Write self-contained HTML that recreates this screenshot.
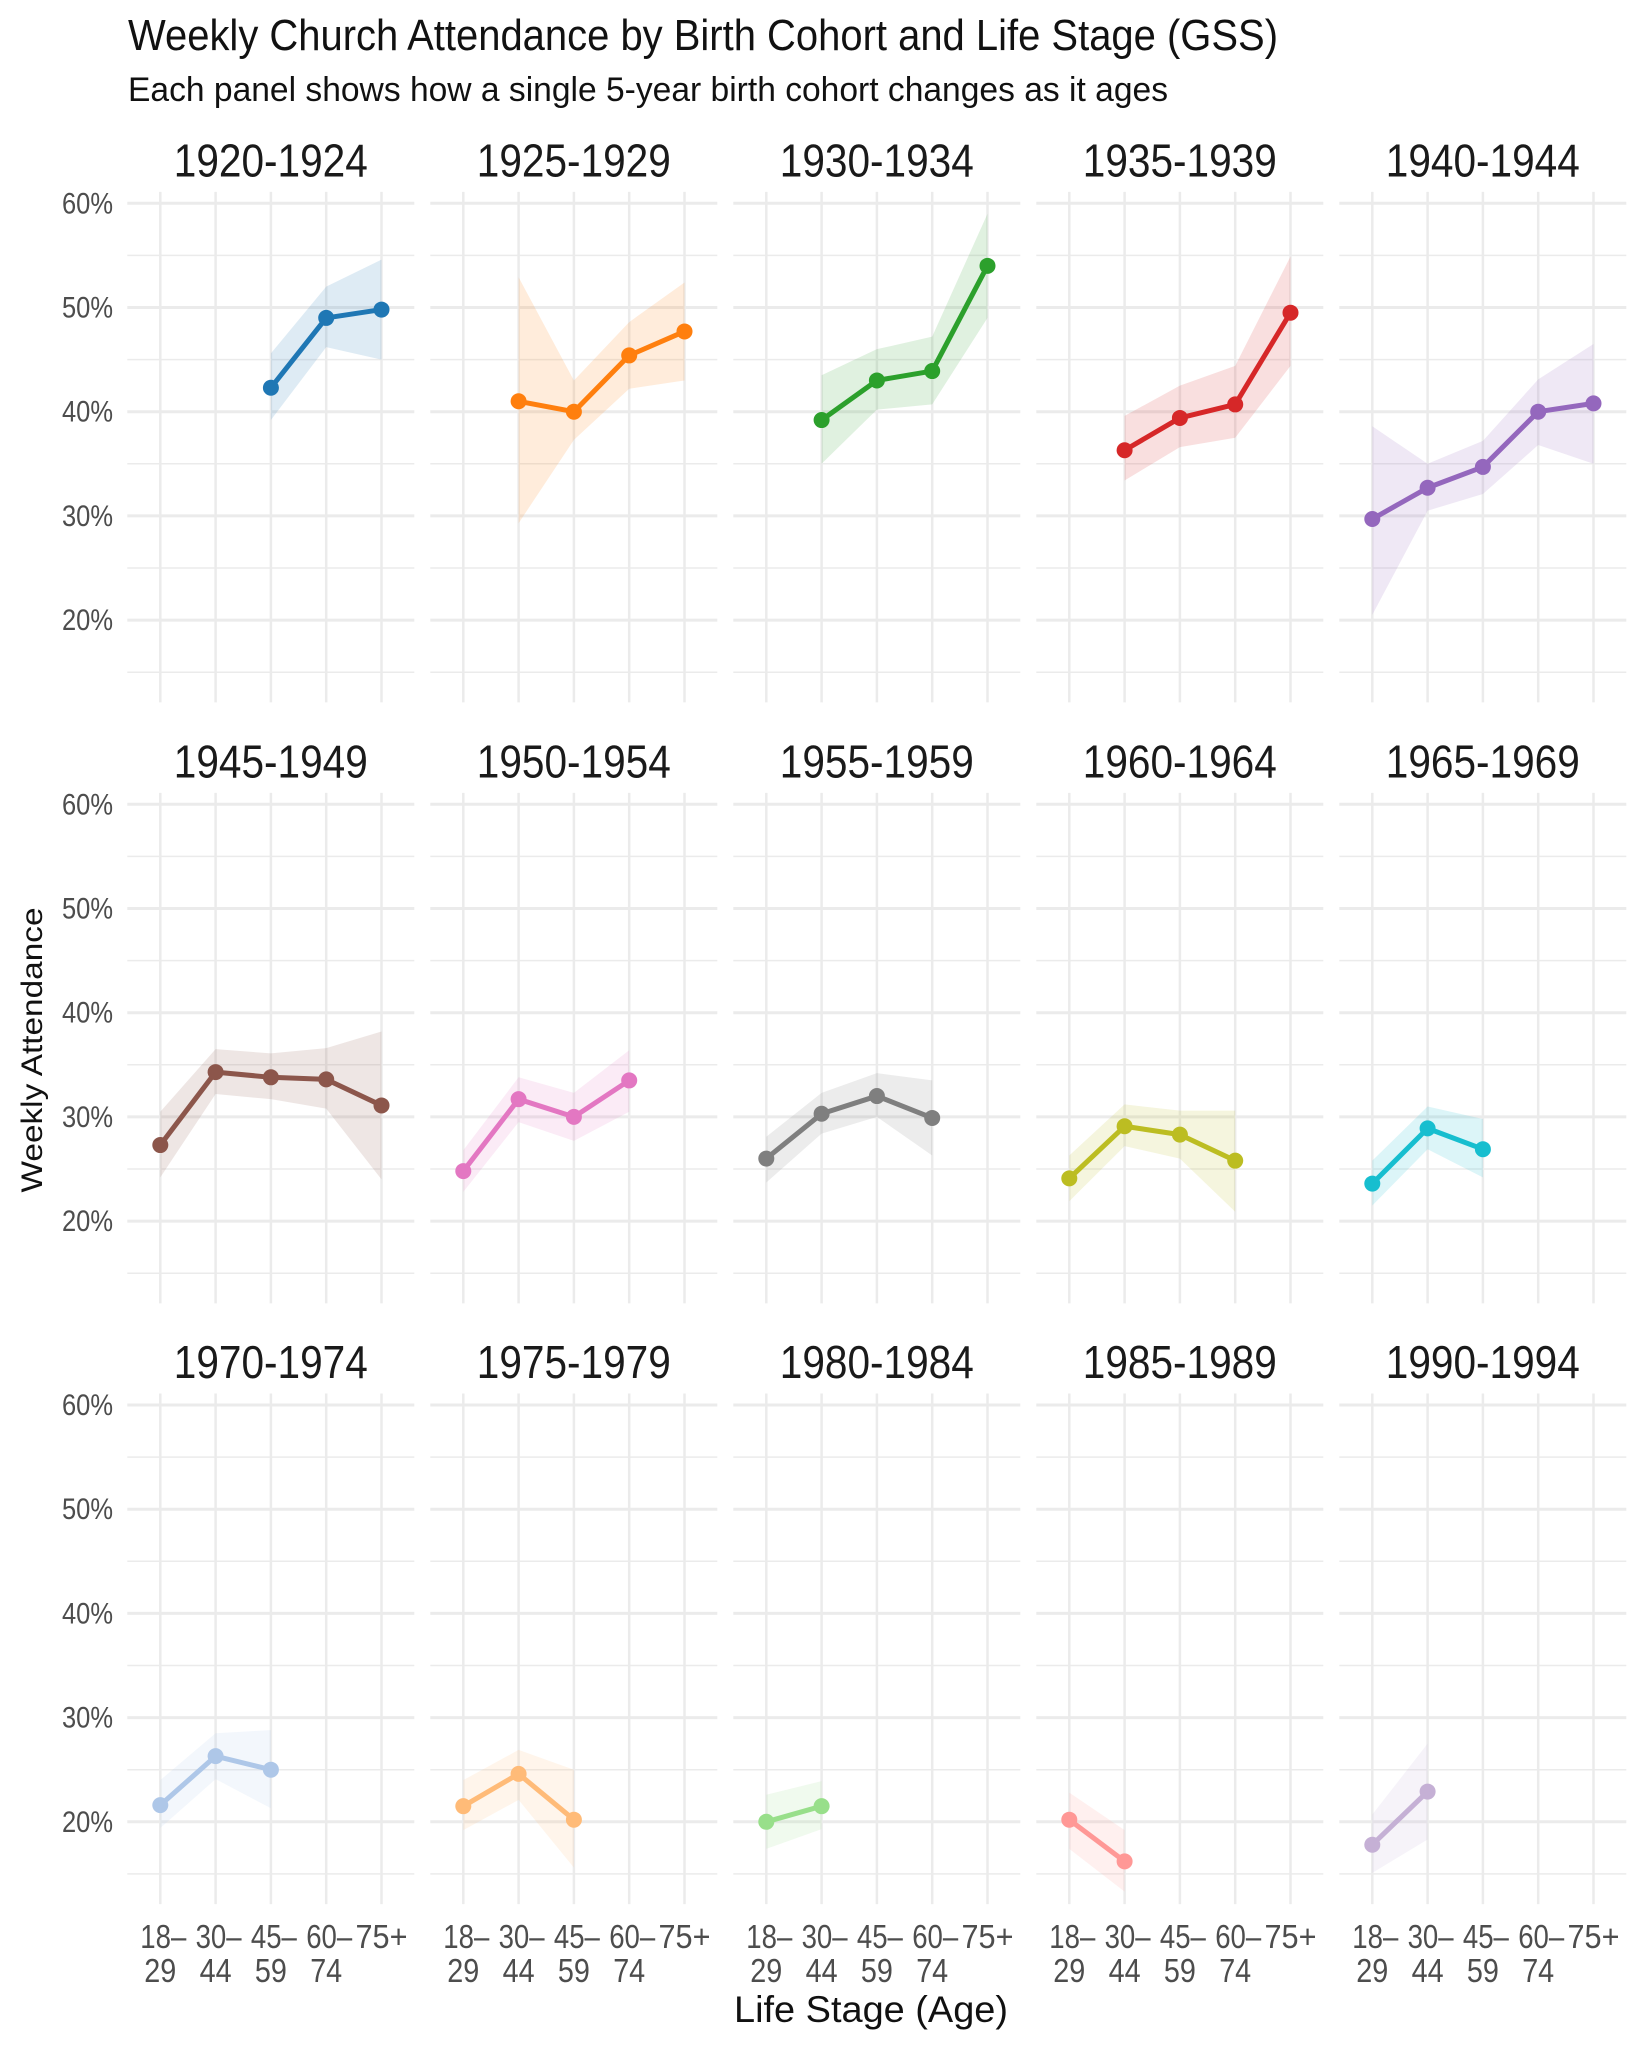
<!DOCTYPE html>
<html><head><meta charset="utf-8"><style>
html,body{margin:0;padding:0;background:#fff;}
svg{display:block;font-family:"Liberation Sans",sans-serif;}
</style></head><body>
<svg id="chart" xmlns="http://www.w3.org/2000/svg" width="1638" height="2048" viewBox="0 0 1638 2048">
<rect width="1638" height="2048" fill="#fff"/>
<text x="128" y="50" font-size="44" fill="#111" textLength="1150" lengthAdjust="spacingAndGlyphs">Weekly Church Attendance by Birth Cohort and Life Stage (GSS)</text>
<text x="128" y="101" font-size="34" fill="#111" textLength="1040" lengthAdjust="spacingAndGlyphs">Each panel shows how a single 5-year birth cohort changes as it ages</text>
<text transform="translate(42,1050) rotate(-90)" text-anchor="middle" font-size="30" fill="#111" textLength="285" lengthAdjust="spacingAndGlyphs">Weekly Attendance</text>
<text x="871" y="2022" text-anchor="middle" font-size="37" fill="#111" textLength="274" lengthAdjust="spacingAndGlyphs">Life Stage (Age)</text>
<g id="panels"></g>
</svg>
<script>
const cohorts = ["1920-1924","1925-1929","1930-1934","1935-1939","1940-1944","1945-1949","1950-1954","1955-1959","1960-1964","1965-1969","1970-1974","1975-1979","1980-1984","1985-1989","1990-1994"];
const stages1 = ["18–","30–","45–","60–","75+"];
const stages2 = ["29","44","59","74",""];
const yTicks = [20,30,40,50,60];
const yMinor = [15,25,35,45,55];
const colors = ["#1f77b4","#ff7f0e","#2ca02c","#d62728","#9467bd","#8c564b","#e377c2","#7f7f7f","#bcbd22","#17becf","#aec7e8","#ffbb78","#98df8a","#ff9896","#c5b0d5"];
const startIdx = [2,1,1,1,0,0,0,0,0,0,0,0,0,0,0];
const values = [
 [42.3,49.0,49.8],
 [41.0,40.0,45.4,47.7],
 [39.2,43.0,43.9,54.0],
 [36.3,39.4,40.7,49.5],
 [29.7,32.7,34.7,40.0,40.8],
 [27.3,34.3,33.8,33.6,31.1],
 [24.8,31.7,30.0,33.5],
 [26.0,30.3,32.0,29.9],
 [24.1,29.1,28.3,25.8],
 [23.6,28.9,26.9],
 [21.6,26.3,25.0],
 [21.5,24.6,20.2],
 [20.0,21.5],
 [20.2,16.2],
 [17.8,22.9]
];
const lower = [
 [39.2,46.2,45.0],
 [29.3,37.3,42.2,43.0],
 [35.0,40.2,40.7,49.0],
 [33.4,36.6,37.5,44.4],
 [20.5,30.5,32.1,36.8,35.0],
 [24.2,32.2,31.7,30.8,24.0],
 [22.8,29.5,27.7,30.5],
 [23.7,28.4,30.0,26.3],
 [21.9,27.2,26.0,20.9],
 [21.5,26.9,24.2],
 [19.4,24.1,21.3],
 [19.2,22.1,15.6],
 [17.4,19.3],
 [17.4,13.3],
 [15.1,18.3]
];
const upper = [
 [45.6,52.0,54.6],
 [52.9,43.0,48.6,52.4],
 [43.5,46.0,47.2,59.0],
 [39.6,42.5,44.4,54.9],
 [38.6,35.0,37.2,43.1,46.5],
 [30.5,36.5,36.1,36.6,38.2],
 [26.8,33.8,32.3,36.4],
 [28.1,32.3,34.2,33.5],
 [26.3,31.2,30.6,30.6],
 [25.8,31.0,29.8],
 [24.0,28.5,28.8],
 [24.0,26.9,25.0],
 [22.6,23.9],
 [22.8,19.2],
 [20.7,27.5]
];

const NS="http://www.w3.org/2000/svg";
const root=document.getElementById("panels");
const PANEL_W=287, PITCH_X=303, LEFT0=127.3, ROW_Y60=[203.3,804.3,1405], PER=10.42;
const YMIN=12.1, YMAX=61.1;
function mk(tag,attrs,parent){const e=document.createElementNS(NS,tag);for(const k in attrs)e.setAttribute(k,attrs[k]);parent.appendChild(e);return e;}
function xScale(col,i){return LEFT0+col*PITCH_X+33+i*55.3;}
function yScale(row,v){return ROW_Y60[row]+(60-v)*PER;}

cohorts.forEach((name,c)=>{
  const row=Math.floor(c/5), col=c%5;
  const g=mk("g",{},root);
  
  
  const left=LEFT0+col*PITCH_X, top=yScale(row,YMAX), bot=yScale(row,YMIN);
  yMinor.forEach(t=>{const l=mk("line",{x1:left,x2:left+PANEL_W,y1:yScale(row,t),y2:yScale(row,t),stroke:"#ebebeb","stroke-width":1.5},g);
    });
  yTicks.forEach(t=>{const l=mk("line",{x1:left,x2:left+PANEL_W,y1:yScale(row,t),y2:yScale(row,t),stroke:"#ebebeb","stroke-width":3},g);
    });
  for(let i=0;i<5;i++){const l=mk("line",{x1:xScale(col,i),x2:xScale(col,i),y1:top,y2:bot,stroke:"#ebebeb","stroke-width":2.5},g);
    }
  const st=mk("text",{x:left+PANEL_W/2,y:yScale(row,60)-27,"text-anchor":"middle","font-size":46,fill:"#1a1a1a",textLength:194,lengthAdjust:"spacingAndGlyphs"},g);
  st.textContent=name;
  
  if(col===0){yTicks.forEach(t=>{const tx=mk("text",{x:113,y:yScale(row,t)+10,"text-anchor":"end","font-size":30,fill:"#4d4d4d",textLength:51,lengthAdjust:"spacingAndGlyphs"},g);
    tx.textContent=t+"%";});}
  if(row===2){for(let i=0;i<5;i++){
    const w1=stages1[i]==="75+"?52:46;
    const a=mk("text",{x:xScale(col,i)+(stages1[i]==="75+"?0:3),y:1948,"text-anchor":"middle","font-size":33,fill:"#4d4d4d",textLength:w1,lengthAdjust:"spacingAndGlyphs"},g);
    a.textContent=stages1[i];
    if(stages2[i]){const b=mk("text",{x:xScale(col,i),y:1982,"text-anchor":"middle","font-size":33,fill:"#4d4d4d",textLength:32,lengthAdjust:"spacingAndGlyphs"},g);
    b.textContent=stages2[i];}}}
  const s=startIdx[c], v=values[c];
  let pts=[];
  for(let i=0;i<v.length;i++)pts.push([xScale(col,s+i),yScale(row,upper[c][i])]);
  for(let i=v.length-1;i>=0;i--)pts.push([xScale(col,s+i),yScale(row,Math.max(lower[c][i],YMIN))]);
  const rb=mk("polygon",{points:pts.map(p=>p.join(",")).join(" "),fill:colors[c],"fill-opacity":0.15},g);
  
  const lp=v.map((val,i)=>xScale(col,s+i)+","+yScale(row,val)).join(" ");
  const ln=mk("polyline",{points:lp,fill:"none",stroke:colors[c],"stroke-width":5,"stroke-linejoin":"round"},g);
  
  v.forEach((val,i)=>{const p=mk("circle",{cx:xScale(col,s+i),cy:yScale(row,val),r:8,fill:colors[c]},g);
    });
});
</script>
</body></html>
